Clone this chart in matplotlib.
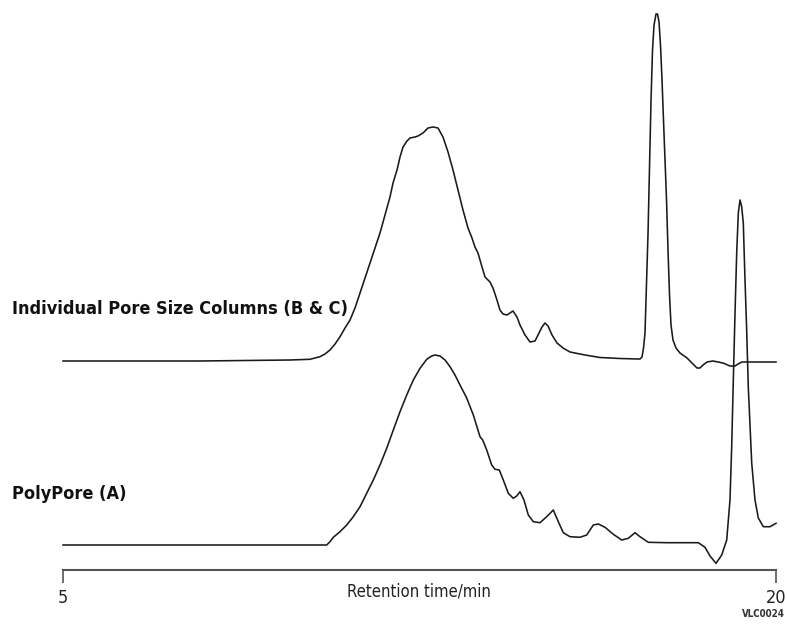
import matplotlib.pyplot as plt

# retention time (min) and detector response (arbitrary units) for each trace
bc_time = [5.000, 7.882, 9.776, 10.196, 10.407, 10.512, 10.617, 10.723, 10.828, 10.933,
           11.038, 11.143, 11.249, 11.354, 11.459, 11.564, 11.669, 11.774, 11.879, 11.943,
           12.027, 12.090, 12.153, 12.237, 12.300, 12.405, 12.468, 12.574, 12.679, 12.784,
           12.889, 12.994, 13.100, 13.205, 13.310, 13.415, 13.520, 13.604, 13.667, 13.731,
           13.815, 13.878, 13.983, 14.046, 14.130, 14.193, 14.257, 14.341, 14.404, 14.467,
           14.551, 14.614, 14.720, 14.825, 14.930, 14.993, 15.077, 15.140, 15.204, 15.288,
           15.393, 15.519, 15.666, 15.982, 16.297, 16.718, 17.097, 17.139, 17.181, 17.213,
           17.244, 17.276, 17.308, 17.339, 17.371, 17.402, 17.434, 17.476, 17.507, 17.539,
           17.570, 17.602, 17.633, 17.665, 17.697, 17.728, 17.760, 17.791, 17.833, 17.896,
           17.980, 18.128, 18.233, 18.338, 18.401, 18.464, 18.549, 18.675, 18.885, 19.032,
           19.138, 19.201, 19.285, 20.000]
bc_signal = [0, 0, 1, 1.7, 4.3, 7, 11, 17, 24.3, 33,
             41, 53, 68, 83, 98, 113, 128, 146, 164, 178,
             191, 204, 214, 220, 223, 224, 225, 228, 233, 234,
             233, 224, 209, 191, 171, 151, 133, 123, 114, 108,
             94, 84, 79, 73, 61, 51, 47, 46, 48, 50,
             44, 36, 26, 19, 20, 26, 34, 38, 35, 26,
             18, 13, 9, 6, 3.5, 2.5, 2, 2, 4, 13,
             28, 78, 128, 194, 261, 311, 336, 347, 347, 339,
             316, 281, 241, 201, 161, 111, 66, 36, 21, 13,
             8, 3, -2, -7, -7, -4, -1, 0, -2, -5,
             -5, -3, -1, -1]

a_time = [5.000, 7.882, 10.548, 10.617, 10.687, 10.828, 10.969, 11.107, 11.249, 11.389,
          11.528, 11.669, 11.810, 11.949, 12.090, 12.231, 12.370, 12.511, 12.652, 12.757,
          12.826, 12.931, 13.037, 13.142, 13.247, 13.352, 13.493, 13.632, 13.773, 13.829,
          13.914, 14.019, 14.088, 14.179, 14.263, 14.368, 14.473, 14.545, 14.614, 14.698,
          14.789, 14.894, 15.035, 15.176, 15.315, 15.420, 15.525, 15.666, 15.877, 16.018,
          16.157, 16.262, 16.403, 16.578, 16.754, 16.893, 17.034, 17.139, 17.314, 17.701,
          18.366, 18.507, 18.612, 18.738, 18.858, 18.963, 19.032, 19.068, 19.102, 19.138,
          19.173, 19.207, 19.243, 19.278, 19.312, 19.348, 19.383, 19.417, 19.489, 19.558,
          19.628, 19.733, 19.874, 20.000]
a_signal = [0, 0, 0, 3.3, 7.7, 13.3, 20, 28.3, 38.3, 51.7,
            65, 80, 96.7, 115, 133.3, 150, 165, 176.7, 185.7, 189,
            190, 189, 185, 178.3, 170, 160, 147, 130, 108.3, 105,
            95, 80, 75.7, 75, 65, 51.7, 46.7, 49, 53.3, 45,
            30, 23.3, 22.3, 28.3, 35, 23.3, 12.3, 8.3, 7.7, 10,
            20, 21, 17.7, 10.7, 5, 6.7, 12.3, 8.3, 2.7, 2.3,
            2.3, -2.3, -11, -18.3, -10, 5, 45, 98.3, 165, 232,
            292, 332, 345, 338.3, 322, 265, 215, 158.3, 82, 45,
            27, 18.3, 18.3, 21.7]

bc_offset = 209
a_offset = 25

font = 'DejaVu Sans'

fig = plt.figure(figsize=(7.87, 6.26), dpi=100)
ax = fig.add_axes([63 / 787, 56 / 626, 713 / 787, 570 / 626])

ax.plot(bc_time, [s + bc_offset for s in bc_signal], color='#1a1a1a', lw=1.15, clip_on=False)
ax.plot(a_time, [s + a_offset for s in a_signal], color='#1a1a1a', lw=1.15, clip_on=False)

ax.set_xlim(5, 20)
ax.set_ylim(0, 570)
for side in ['top', 'left', 'right']:
    ax.spines[side].set_visible(False)
ax.spines['bottom'].set_color('#555555')
ax.spines['bottom'].set_linewidth(1.5)
ax.set_yticks([])
ax.set_xticks([5, 20])
ax.set_xticklabels(['5', '20'], family=font, stretch='condensed', fontsize=13, color='#222222')
ax.tick_params(axis='x', direction='out', length=9, width=1.2, color='#555555', pad=5)

fig.text(419 / 787, 1 - 592 / 626, 'Retention time/min', family=font, stretch='condensed',
         fontsize=12, color='#222222', ha='center', va='center')
fig.text(785 / 787, 1 - 614 / 626, 'VLC0024', family=font, stretch='condensed', fontsize=7,
         fontweight='bold', color='#333333', ha='right', va='center')
fig.text(12 / 787, 1 - 309 / 626, 'Individual Pore Size Columns (B & C)', family=font,
         stretch='condensed', fontsize=13, fontweight='bold', color='#111111',
         ha='left', va='center')
fig.text(12 / 787, 1 - 494 / 626, 'PolyPore (A)', family=font, stretch='condensed',
         fontsize=13, fontweight='bold', color='#111111', ha='left', va='center')

fig.savefig('out.png', dpi=100)
